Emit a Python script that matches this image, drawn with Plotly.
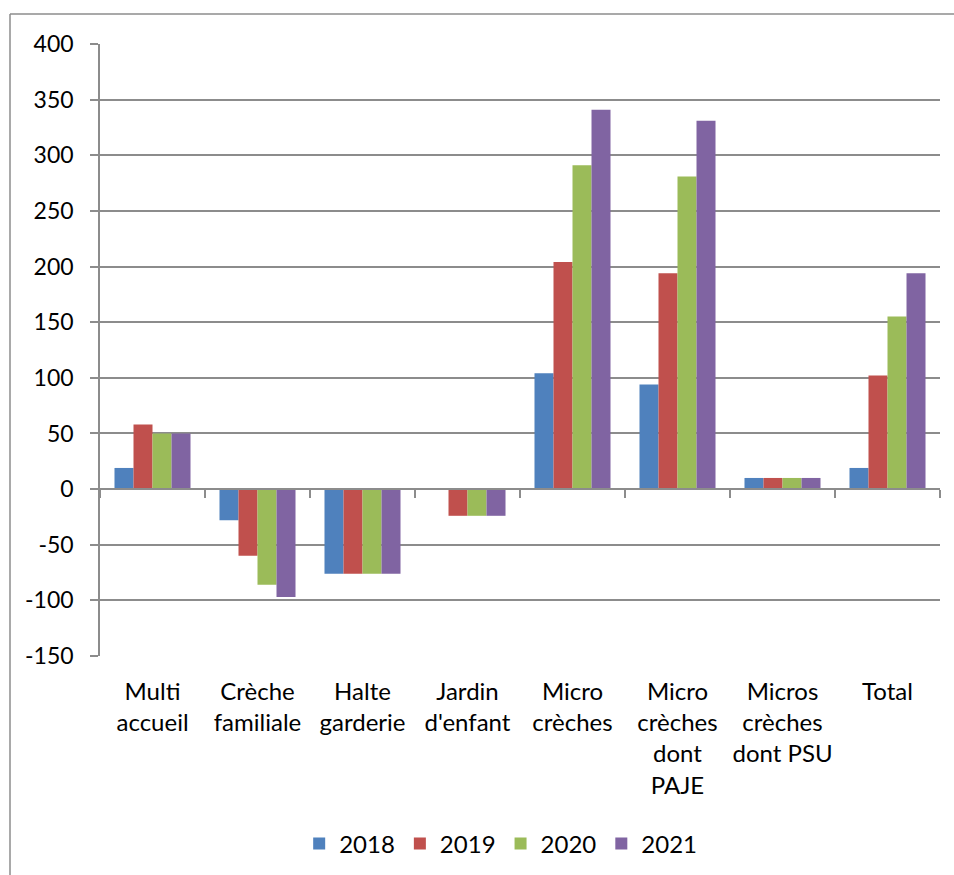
import plotly.graph_objects as go

# Évolution du nombre de places par type d'accueil
categories = [
    "Multi<br>accueil",
    "Crèche<br>familiale",
    "Halte<br>garderie",
    "Jardin<br>d'enfant",
    "Micro<br>crèches",
    "Micro<br>crèches<br>dont<br>PAJE",
    "Micros<br>crèches<br>dont PSU",
    "Total",
]
years = ["2018", "2019", "2020", "2021"]
values_2018 = [19, -28, -76, 0, 104, 94, 10, 19]
values_2019 = [58, -60, -76, -24, 204, 194, 10, 102]
values_2020 = [50, -86, -76, -24, 291, 281, 10, 155]
values_2021 = [50, -97, -76, -24, 341, 331, 10, 194]
series = [values_2018, values_2019, values_2020, values_2021]
colors = ["#4F81BD", "#C0504D", "#9BBB59", "#8064A2"]

y_min, y_max = -150, 400
y_ticks = list(range(y_min, y_max + 1, 50))
y_tick_text = [str(v) for v in y_ticks]  # plain hyphen for negatives

FONT = "Lato"
GRID = "#8C8C8C"

fig = go.Figure()
for name, vals, col in zip(years, series, colors):
    fig.add_trace(go.Bar(
        name=name, x=categories, y=vals,
        marker=dict(color=col, line=dict(width=0)),
    ))

# secondary category axis drawn along the zero line, with boundary ticks
n = len(categories)
boundaries = [i + 0.5 for i in range(-1, n)]
fig.add_trace(go.Scatter(x=[], y=[], xaxis="x2", showlegend=False, hoverinfo="skip"))

fig.update_layout(
    width=954, height=875,
    margin=dict(l=100, r=14, t=44, b=219, autoexpand=False),
    paper_bgcolor="white", plot_bgcolor="white",
    barmode="group", bargap=0.276, bargroupgap=0,
    font=dict(family=FONT, size=24, color="#000000"),
    xaxis=dict(
        type="category", range=[-0.5, n - 0.5], automargin=False,
        showgrid=False, showline=False, zeroline=False,
        ticks="", tickfont=dict(size=24), ticklabelstandoff=19,
    ),
    xaxis2=dict(
        overlaying="x", anchor="free",
        position=(0 - y_min) / (y_max - y_min),
        range=[-0.5, n - 0.5], showgrid=False, zeroline=False,
        showline=True, linecolor=GRID, linewidth=1.5,
        ticks="outside", ticklen=8, tickwidth=1.5, tickcolor=GRID,
        tickvals=boundaries, showticklabels=False,
    ),
    yaxis=dict(
        range=[y_min, y_max], tickvals=y_ticks, ticktext=y_tick_text,
        automargin=False,
        showgrid=True, gridcolor=GRID, gridwidth=1.5,
        zeroline=False,
        showline=True, linecolor=GRID, linewidth=1.5,
        ticks="outside", ticklen=8, tickwidth=1.5, tickcolor=GRID,
        tickfont=dict(size=23), ticklabelstandoff=12,
    ),
    legend=dict(
        orientation="h", x=0.477, xanchor="center",
        y=-0.307, yanchor="middle",
        font=dict(size=24), itemwidth=30,
        traceorder="normal",
    ),
    shapes=[
        # chart frame (top and left edges)
        dict(type="line", xref="paper", yref="paper",
             x0=(10 - 100) / 840, x1=1.2, y0=(656 - 14) / 612, y1=(656 - 14) / 612,
             line=dict(color=GRID, width=1.5)),
        dict(type="line", xref="paper", yref="paper",
             x0=(10 - 100) / 840, x1=(10 - 100) / 840, y0=(656 - 14) / 612, y1=-0.5,
             line=dict(color=GRID, width=1.5)),
    ],
)

fig.write_html("out.html")
